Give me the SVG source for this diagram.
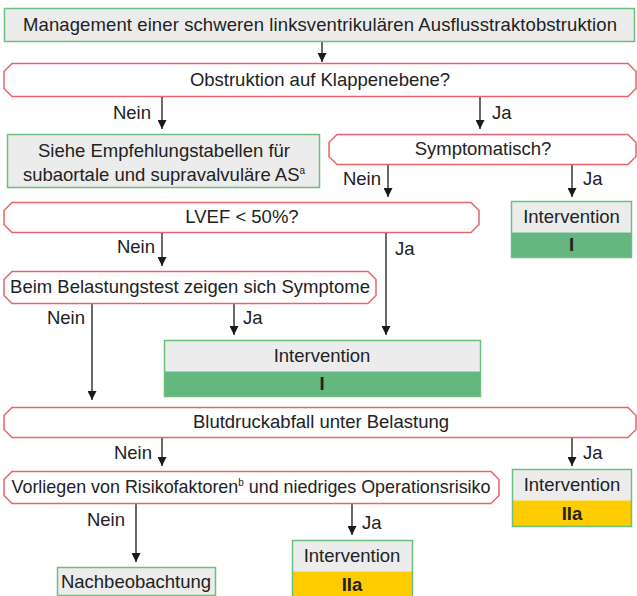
<svg xmlns="http://www.w3.org/2000/svg" width="637" height="596" viewBox="0 0 637 596">
  <defs>
    <marker id="arrow" viewBox="0 0 10 10" refX="10" refY="5" markerWidth="9" markerHeight="9" markerUnits="userSpaceOnUse" orient="auto">
      <path d="M0,0 L10,5 L0,10 Z" fill="#1a1a1a"/>
    </marker>
    <style>
      text { font-family: "Liberation Sans", Arial, sans-serif; font-size: 18.5px; fill: #222; }
      .c { text-anchor: middle; }
      .b { font-weight: bold; }
      .box { fill: #ececec; stroke: #6cbf7c; stroke-width: 1.5; }
      .dec { fill: #fff; stroke: #e9636b; stroke-width: 1.5; }
      .g { fill: #64b77f; }
      .y { fill: #ffcc00; }
      .frame { fill: none; stroke: #6cbf7c; stroke-width: 1.5; }
      .ln { stroke: #1a1a1a; stroke-width: 1.3; fill: none; marker-end: url(#arrow); }
      .sup { font-size: 10px; }
    </style>
  </defs>

  <!-- Connectors -->
  <g id="connectors">
    <line class="ln" x1="322" y1="42" x2="322" y2="62"/>
    <line class="ln" x1="162" y1="97" x2="162" y2="129"/>
    <line class="ln" x1="480" y1="97" x2="480" y2="129"/>
    <line class="ln" x1="388" y1="164" x2="388" y2="197"/>
    <line class="ln" x1="572" y1="164" x2="572" y2="197"/>
    <line class="ln" x1="162" y1="232" x2="162" y2="266"/>
    <line class="ln" x1="386" y1="232" x2="386" y2="335"/>
    <line class="ln" x1="92" y1="303" x2="92" y2="400"/>
    <line class="ln" x1="234" y1="303" x2="234" y2="335"/>
    <line class="ln" x1="162" y1="437" x2="162" y2="466"/>
    <line class="ln" x1="572" y1="437" x2="572" y2="466"/>
    <line class="ln" x1="136" y1="503" x2="136" y2="562"/>
    <line class="ln" x1="352" y1="503" x2="352" y2="535"/>
    <!-- Branch labels -->
    <text x="151" y="119" text-anchor="end">Nein</text>
    <text x="492" y="119">Ja</text>
    <text x="381" y="185" text-anchor="end">Nein</text>
    <text x="583" y="185">Ja</text>
    <text x="155" y="253" text-anchor="end">Nein</text>
    <text x="395" y="255">Ja</text>
    <text x="85" y="324" text-anchor="end">Nein</text>
    <text x="243" y="324">Ja</text>
    <text x="152" y="459" text-anchor="end">Nein</text>
    <text x="583" y="459">Ja</text>
    <text x="125" y="526" text-anchor="end">Nein</text>
    <text x="362" y="529">Ja</text>
  </g>

  <!-- Start -->
  <g id="start">
    <rect class="box" x="4.5" y="8.5" width="630" height="33"/>
    <text class="c" x="320" y="31" textLength="594">Management einer schweren linksventrikulären Ausflusstraktobstruktion</text>
  </g>

  <!-- Obstruction level -->
  <g id="q-klappe">
    <polygon class="dec" points="12,63.5 628,63.5 636,71.5 636,88.5 628,96.5 12,96.5 4,88.5 4,71.5"/>
    <text class="c" x="320" y="86">Obstruktion auf Klappenebene?</text>
  </g>

  <!-- Subvalvular / supravalvular reference -->
  <g id="siehe">
    <rect class="box" x="7.5" y="134.5" width="312" height="53"/>
    <text class="c" x="164" y="157">Siehe Empfehlungstabellen für</text>
    <text class="c" x="164" y="181">subaortale und supravalvuläre AS<tspan class="sup" dy="-7">a</tspan></text>
  </g>

  <!-- Symptomatic -->
  <g id="q-symptomatisch">
    <polygon class="dec" points="337,134.5 628,134.5 636,142.5 636,156.5 628,164.5 337,164.5 329,156.5 329,142.5"/>
    <text class="c" x="483" y="155">Symptomatisch?</text>
  </g>

  <!-- Intervention I (right) -->
  <g id="int-i-right">
    <rect x="511.5" y="201.5" width="120" height="31" fill="#ececec"/>
    <rect class="g" x="511.5" y="232.5" width="120" height="25"/>
    <rect class="frame" x="511.5" y="201.5" width="120" height="56"/>
    <text class="c" x="571.5" y="223">Intervention</text>
    <text class="c b" x="571.5" y="251">I</text>
  </g>

  <!-- LVEF -->
  <g id="q-lvef">
    <polygon class="dec" points="12,202.5 471,202.5 479,210.5 479,224.5 471,232.5 12,232.5 4,224.5 4,210.5"/>
    <text class="c" x="242" y="223">LVEF &lt; 50%?</text>
  </g>

  <!-- Exercise test -->
  <g id="q-belastungstest">
    <polygon class="dec" points="12,271.5 368,271.5 376,279.5 376,295.5 368,303.5 12,303.5 4,295.5 4,279.5"/>
    <text class="c" x="190" y="293">Beim Belastungstest zeigen sich Symptome</text>
  </g>

  <!-- Intervention I (middle) -->
  <g id="int-i-mid">
    <rect x="164.5" y="340.5" width="316" height="31" fill="#ececec"/>
    <rect class="g" x="164.5" y="371.5" width="316" height="25"/>
    <rect class="frame" x="164.5" y="340.5" width="316" height="56"/>
    <text class="c" x="322" y="362">Intervention</text>
    <text class="c b" x="322" y="390">I</text>
  </g>

  <!-- Blood pressure drop -->
  <g id="q-blutdruck">
    <polygon class="dec" points="12,407.5 628,407.5 636,415.5 636,429.5 628,437.5 12,437.5 4,429.5 4,415.5"/>
    <text class="c" x="321" y="428">Blutdruckabfall unter Belastung</text>
  </g>

  <!-- Intervention IIa (right) -->
  <g id="int-iia-right">
    <rect x="512.5" y="469.5" width="119" height="31" fill="#ececec"/>
    <rect class="y" x="512.5" y="500.5" width="119" height="26"/>
    <rect class="frame" x="512.5" y="469.5" width="119" height="57"/>
    <text class="c" x="572" y="491">Intervention</text>
    <text class="c b" x="572" y="520">IIa</text>
  </g>

  <!-- Risk factors -->
  <g id="q-risiko">
    <polygon class="dec" points="12,471.5 491,471.5 499,479.5 499,495.5 491,503.5 12,503.5 4,495.5 4,479.5"/>
    <text class="c" x="251" y="493" style="font-size:17.9px">Vorliegen von Risikofaktoren<tspan class="sup" dy="-7">b</tspan><tspan dy="7"> und niedriges Operationsrisiko</tspan></text>
  </g>

  <!-- Follow-up -->
  <g id="nachbeobachtung">
    <rect class="box" x="57.5" y="567.5" width="158" height="28"/>
    <text class="c" x="136" y="588">Nachbeobachtung</text>
  </g>

  <!-- Intervention IIa (bottom) -->
  <g id="int-iia-bottom">
    <rect x="292.5" y="540.5" width="120" height="31" fill="#ececec"/>
    <rect class="y" x="292.5" y="571.5" width="120" height="26"/>
    <rect class="frame" x="292.5" y="540.5" width="120" height="57"/>
    <text class="c" x="352" y="562">Intervention</text>
    <text class="c b" x="352" y="591">IIa</text>
  </g>
</svg>
